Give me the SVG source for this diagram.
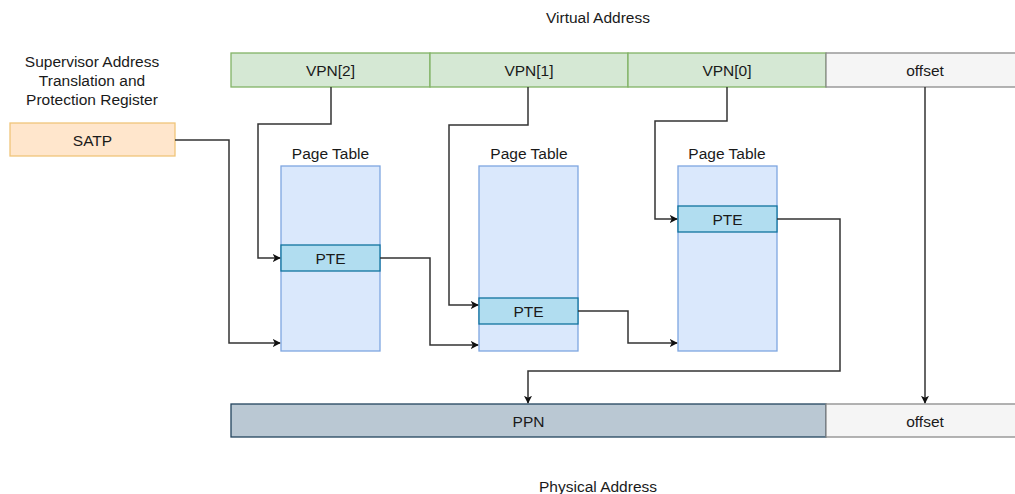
<svg xmlns="http://www.w3.org/2000/svg" width="1015" height="494" viewBox="0 0 1015 494">
<style>
text{font-family:"Liberation Sans",Arial,sans-serif;font-size:15.5px;fill:#1a1a1a;text-anchor:middle}
.vpn{fill:#d5e8d4;stroke:#82b366;stroke-width:1.3}
.off{fill:#f5f5f5;stroke:#8a8a8a;stroke-width:1.3}
.pt{fill:#dae8fc;stroke:#7ea6e0;stroke-width:1.3}
.pte{fill:#b1ddf0;stroke:#10739e;stroke-width:1.3}
.satp{fill:#ffe6cc;stroke:#f0c57a;stroke-width:1.3}
.ppn{fill:#bac8d3;stroke:#23445d;stroke-width:1.3}
.c{fill:none;stroke:#333;stroke-width:1.5;marker-end:url(#ah)}
</style>
<defs>
<marker id="ah" viewBox="0 0 10 10" refX="9" refY="5" markerWidth="8" markerHeight="8" markerUnits="userSpaceOnUse" orient="auto">
<path d="M0,0 L10,5 L0,10 L2.5,5 Z" fill="#111"/>
</marker>
</defs>
<rect width="1015" height="494" fill="#fff"/>

<g id="virtual-address">
<text x="598" y="23">Virtual Address</text>
<g id="vpn2"><rect class="vpn" x="231" y="53" width="199" height="34"/><text x="330.5" y="76">VPN[2]</text></g>
<g id="vpn1"><rect class="vpn" x="430" y="53" width="198" height="34"/><text x="529" y="76">VPN[1]</text></g>
<g id="vpn0"><rect class="vpn" x="628" y="53" width="198" height="34"/><text x="727" y="76">VPN[0]</text></g>
<g id="voffset"><rect class="off" x="826" y="53" width="200" height="34"/><text x="925" y="76">offset</text></g>
</g>

<g id="satp-label">
<text x="92" y="67">Supervisor Address</text>
<text x="92" y="86">Translation and</text>
<text x="92" y="105">Protection Register</text>
</g>
<g id="satp"><rect class="satp" x="10" y="123" width="165" height="33"/><text x="92.5" y="146">SATP</text></g>

<g id="pt1">
<text x="330.5" y="159">Page Table</text>
<rect class="pt" x="281" y="166" width="99" height="185"/>
<g id="pte1"><rect class="pte" x="281" y="245" width="99" height="26"/><text x="330.5" y="264">PTE</text></g>
</g>
<g id="pt2">
<text x="529" y="159">Page Table</text>
<rect class="pt" x="479" y="166" width="99" height="185"/>
<g id="pte2"><rect class="pte" x="479" y="298" width="99" height="26"/><text x="528.5" y="317">PTE</text></g>
</g>
<g id="pt3">
<text x="727" y="159">Page Table</text>
<rect class="pt" x="678" y="166" width="99" height="185"/>
<g id="pte3"><rect class="pte" x="678" y="206" width="99" height="26"/><text x="727.5" y="225">PTE</text></g>
</g>

<g id="physical-address">
<g id="ppn"><rect class="ppn" x="231" y="404" width="595" height="33"/><text x="528.5" y="427">PPN</text></g>
<g id="poffset"><rect class="off" x="826" y="404" width="200" height="33"/><text x="925" y="427">offset</text></g>
<text x="598" y="492">Physical Address</text>
</g>

<g id="connectors">
<path class="c" d="M175,140 H229 V343 H280"/>
<path class="c" d="M331,87 V124 H258 V258 H280"/>
<path class="c" d="M380,258 H430 V345 H478"/>
<path class="c" d="M528,87 V125 H449 V305 H478"/>
<path class="c" d="M578,311 H628 V343 H677"/>
<path class="c" d="M727,87 V121 H655 V219 H677"/>
<path class="c" d="M777,219 H840 V371 H528 V403"/>
<path class="c" d="M925,87 V403"/>
</g>
</svg>
